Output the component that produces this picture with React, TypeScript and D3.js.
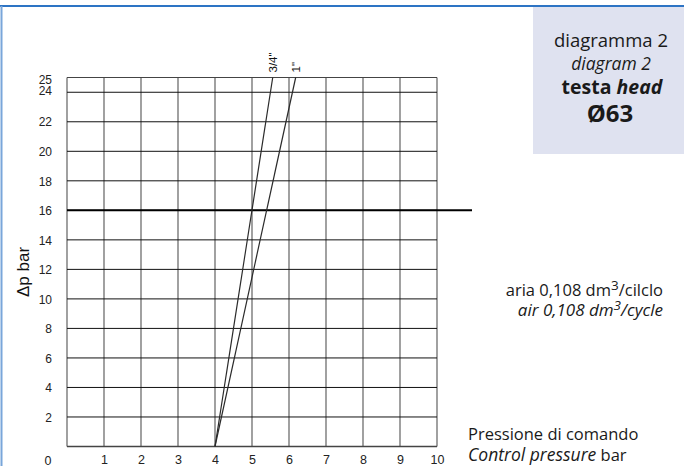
import { useRef, useEffect } from "react";
import * as d3 from "d3";

// x axis: control pressure (bar)
const xTicks = [1, 2, 3, 4, 5, 6, 7, 8, 9, 10];
// y axis: delta p (bar)
const yTicks = [2, 4, 6, 8, 10, 12, 14, 16, 18, 20, 22, 24];
const yTop = 25;
const gridY = [0, 2, 4, 6, 8, 10, 12, 14, 16, 18, 20, 22, 24, 25];
const gridX = [0, 1, 2, 3, 4, 5, 6, 7, 8, 9, 10];
const limitLine = 16;

// valve sizes, each a straight line [control pressure, delta p]
const seriesNames = ['3/4"', '1"'];
const series34 = [
  [4, 0],
  [5.56, 25],
];
const series1 = [
  [4, 0],
  [6.18, 25],
];

const App = () => {
  const svgRef = useRef<SVGSVGElement>(null);

  useEffect(() => {
    const w = 684;
    const h = 466;
    const svg = d3.select(svgRef.current);
    svg.selectAll("*").remove();

    const xScale = d3.scaleLinear().domain([0, 10]).range([67, 437]);
    const yScale = d3.scaleLinear().domain([0, 25]).range([446.5, 77.5]);

    // frame
    svg
      .append("line")
      .attr("x1", 0)
      .attr("x2", w)
      .attr("y1", 6)
      .attr("y2", 6)
      .attr("stroke", "#2d74c4")
      .attr("stroke-width", 2);
    svg
      .append("line")
      .attr("x1", 1.5)
      .attr("x2", 1.5)
      .attr("y1", 6)
      .attr("y2", h)
      .attr("stroke", "#79a6da")
      .attr("stroke-width", 2);

    // title box
    svg
      .append("rect")
      .attr("x", 533)
      .attr("y", 7)
      .attr("width", w - 533)
      .attr("height", 147)
      .attr("fill", "#dfe2f0");

    const title = svg
      .append("g")
      .attr("font-family", "'Open Sans', 'Noto Sans', sans-serif")
      .attr("text-anchor", "middle")
      .attr("fill", "#1a1a1a");
    title
      .append("text")
      .attr("x", 611)
      .attr("y", 47)
      .style("font-size", "18.5px")
      .text("diagramma 2");
    title
      .append("text")
      .attr("x", 611)
      .attr("y", 70)
      .style("font-size", "17.5px")
      .style("font-style", "italic")
      .text("diagram 2");
    const head = title
      .append("text")
      .attr("x", 612)
      .attr("y", 94)
      .style("font-size", "19.5px")
      .style("font-weight", "bold");
    head.append("tspan").text("testa ");
    head.append("tspan").style("font-style", "italic").text("head");
    title
      .append("text")
      .attr("x", 610)
      .attr("y", 122)
      .style("font-size", "24px")
      .style("font-weight", "bold")
      .text("Ø63");

    // grid
    const grid = svg.append("g");
    grid
      .selectAll(".vgrid")
      .data(gridX)
      .join("line")
      .attr("x1", (d) => xScale(d))
      .attr("x2", (d) => xScale(d))
      .attr("y1", yScale(0))
      .attr("y2", yScale(yTop))
      .attr("stroke", "#6e6e6e")
      .attr("stroke-width", 1.3);
    grid
      .selectAll(".hgrid")
      .data(gridY)
      .join("line")
      .attr("x1", xScale(0))
      .attr("x2", xScale(10))
      .attr("y1", (d) => yScale(d))
      .attr("y2", (d) => yScale(d))
      .attr("stroke", (d) => (d === 0 || d === 25 ? "#444" : "#111"))
      .attr("stroke-width", (d) => (d === 0 ? 1.4 : 1));

    // 16 bar limit
    svg
      .append("line")
      .attr("x1", xScale(0))
      .attr("x2", 472)
      .attr("y1", yScale(limitLine))
      .attr("y2", yScale(limitLine))
      .attr("stroke", "#000")
      .attr("stroke-width", 2);

    // curves
    const line = d3
      .line()
      .x((d) => xScale(d[0]))
      .y((d) => yScale(d[1]));
    svg
      .selectAll(".curve")
      .data([series34, series1])
      .join("path")
      .attr("d", (d) => line(d as [number, number][]))
      .attr("fill", "none")
      .attr("stroke", "#2a2a2a")
      .attr("stroke-width", 1.2);

    const ends = [series34[1], series1[1]];
    svg
      .selectAll(".curveLabel")
      .data(ends)
      .join("text")
      .attr(
        "transform",
        (d) => `translate(${xScale(d[0]) + 4}, ${yScale(d[1]) - 5}) rotate(-90)`
      )
      .attr("font-family", "'Liberation Sans', Arial, sans-serif")
      .style("font-size", "11.5px")
      .attr("fill", "#111")
      .text((d, i) => seriesNames[i]);

    // axes (labels only)
    const axisFont = "'Liberation Sans', Arial, sans-serif";
    const xAxis = d3.axisBottom(xScale).tickValues(xTicks).tickSize(0).tickPadding(9);
    const gx = svg
      .append("g")
      .attr("transform", `translate(0, ${yScale(0)})`)
      .call(xAxis);
    gx.select(".domain").remove();
    gx.selectAll("text")
      .attr("font-family", axisFont)
      .style("font-size", "12.5px")
      .attr("fill", "#222");

    const yAxis = d3.axisLeft(yScale).tickValues(yTicks).tickSize(0).tickPadding(15);
    const gy = svg
      .append("g")
      .attr("transform", `translate(${xScale(0)}, 0)`)
      .call(yAxis);
    gy.select(".domain").remove();
    gy.selectAll("text")
      .attr("font-family", axisFont)
      .style("font-size", "12px")
      .attr("fill", "#222")
      .attr("dy", (d) => (d === 24 ? "0.2em" : "0.35em"));
    svg
      .append("text")
      .attr("x", xScale(0) - 15)
      .attr("y", yScale(yTop) + 2)
      .attr("dy", "0.35em")
      .attr("text-anchor", "end")
      .attr("font-family", axisFont)
      .style("font-size", "12px")
      .attr("fill", "#222")
      .text(yTop);
    svg
      .append("text")
      .attr("x", 48)
      .attr("y", yScale(0) + 18)
      .attr("text-anchor", "middle")
      .attr("font-family", axisFont)
      .style("font-size", "12.5px")
      .attr("fill", "#222")
      .text("0");

    svg
      .append("text")
      .attr("transform", "translate(29, 272) rotate(-90)")
      .attr("text-anchor", "middle")
      .attr("font-family", axisFont)
      .style("font-size", "17px")
      .attr("fill", "#111")
      .text("Δp bar");

    // notes
    const noteFont = "'Open Sans', 'Noto Sans', sans-serif";
    const air = svg
      .append("text")
      .attr("x", 663)
      .attr("y", 296)
      .attr("text-anchor", "end")
      .attr("font-family", noteFont)
      .style("font-size", "16.5px")
      .attr("fill", "#1a1a1a");
    air.append("tspan").text("aria 0,108 dm");
    air.append("tspan").attr("dy", -6).style("font-size", "13.5px").text("3");
    air.append("tspan").attr("dy", 6).text("/cilclo");
    const airEn = svg
      .append("text")
      .attr("x", 663)
      .attr("y", 316)
      .attr("text-anchor", "end")
      .attr("font-family", noteFont)
      .style("font-size", "17px")
      .style("font-style", "italic")
      .attr("fill", "#1a1a1a");
    airEn.append("tspan").text("air 0,108 dm");
    airEn.append("tspan").attr("dy", -6).style("font-size", "13.5px").text("3");
    airEn.append("tspan").attr("dy", 6).text("/cycle");

    svg
      .append("text")
      .attr("x", 468)
      .attr("y", 440)
      .attr("font-family", noteFont)
      .style("font-size", "16.5px")
      .attr("fill", "#1a1a1a")
      .text("Pressione di comando");
    const ctrl = svg
      .append("text")
      .attr("x", 468)
      .attr("y", 461)
      .attr("font-family", noteFont)
      .style("font-size", "16.5px")
      .attr("fill", "#1a1a1a");
    ctrl.append("tspan").style("font-style", "italic").style("font-size", "17.5px").text("Control pressure");
    ctrl.append("tspan").text(" bar");
  }, []);

  return (
    <svg
      ref={svgRef}
      width={684}
      height={466}
      style={{ position: "absolute", left: 0, top: 0, background: "#fff" }}
    ></svg>
  );
};

export default App;
